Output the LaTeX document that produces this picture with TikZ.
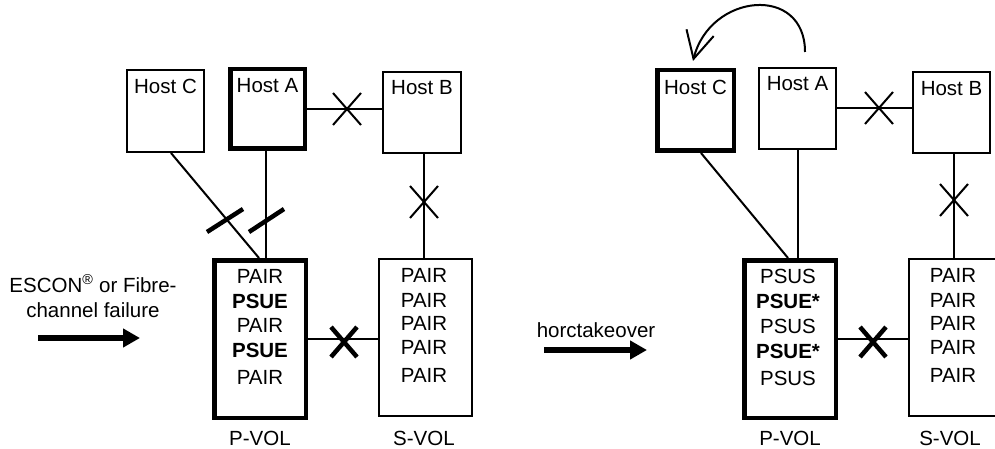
\documentclass[tikz,border=0pt]{standalone}
\usepackage{fontspec}
\setmainfont{Liberation Sans}
\usetikzlibrary{calc,arrows.meta}
\begin{document}
\begin{tikzpicture}[x=1pt,y=-1pt,
  txt/.style={font=\fontsize{20.5}{24}\selectfont, inner sep=0pt, anchor=base},
  thinbox/.style={draw, line width=2pt, fill=white, inner sep=0pt},
  thickbox/.style={draw, line width=4.5pt, fill=white, inner sep=0pt},
  conn/.style={line width=2pt},
  slashmark/.style={line width=4.5pt},
  bigarrow/.style={line width=6pt, -{Triangle[length=17pt,width=18pt]}},
  xthin/.pic={\draw[line width=2pt] (-14,-16) -- (14,16) (-14,16) -- (14,-16);},
  xthick/.pic={\draw[line width=4.5pt] (-13,-15) -- (13,15) (-13,15) -- (13,-15);}
]
\useasboundingbox (0,0) rectangle (995,449);

% ---------- left diagram ----------
\node[thinbox, minimum width=77pt, minimum height=82pt] (lhC) at (165.5,111) {};
\node[thickbox, minimum width=74.5pt, minimum height=79.5pt] (lhA) at (267.5,109) {};
\node[thinbox, minimum width=78pt, minimum height=81pt] (lhB) at (422,112.5) {};
\node[thickbox, minimum width=91.5pt, minimum height=157.5pt] (lpv) at (260,339) {};
\node[thinbox, minimum width=93pt, minimum height=157pt] (lsv) at (425.5,337.5) {};

\node[txt] (lhCt) at (165.5,94) {Host C};
\node[txt] (lhAt) at (267.5,93) {Host A};
\node[txt] (lhBt) at (422,95) {Host B};

\node[txt] (lp1) at (260,283) {PAIR};
\node[txt] (lp2) at (260,308) {\textbf{PSUE}};
\node[txt] (lp3) at (260,332) {PAIR};
\node[txt] (lp4) at (260,357) {\textbf{PSUE}};
\node[txt] (lp5) at (260,384) {PAIR};
\foreach \yy [count=\i] in {282,307,330,354,382}
  \node[txt] (ls\i) at (424,\yy) {PAIR};
\node[txt] (lpl) at (260,445) {P-VOL};
\node[txt] (lsl) at (424,445) {S-VOL};

\draw[conn] (lhA.east) -- (lhA.east -| lhB.west);
\draw[conn] ($(lhC.south)+(5.5,0)$) -- ($(lpv.north)+(-1,0)$);
\draw[conn] ($(lhA.south)+(-1.5,0)$) -- ($(lhA.south |- lpv.north)+(-1.5,0)$);
\draw[conn] ($(lhB.south)+(2,0)$) -- ($(lhB.south |- lsv.north)+(2,0)$);
\draw[conn] (lpv.east) -- (lpv.east -| lsv.west);
\pic at (347,109) {xthin};
\pic at (424,202) {xthin};
\pic at (344,342) {xthick};
\draw[slashmark] (207,232) -- (243,209);
\draw[slashmark] (249,232) -- (284,209);

\node[txt] (esc1) at (93,292) {ESCON\textsuperscript{\textregistered} or Fibre-};
\node[txt] (esc2) at (93,317) {channel failure};
\coordinate (la1) at (38,338);
\coordinate (la2) at (140,338);
\draw[bigarrow] (la1) -- (la2);

% ---------- right diagram ----------
\node[thickbox, minimum width=76.5pt, minimum height=80.5pt] (rhC) at (695.5,110.5) {};
\node[thinbox, minimum width=77pt, minimum height=81pt] (rhA) at (797.5,108.5) {};
\node[thinbox, minimum width=77pt, minimum height=81pt] (rhB) at (951.5,112.5) {};
\node[thickbox, minimum width=91.5pt, minimum height=157.5pt] (rpv) at (790,339) {};
\node[thinbox, minimum width=93pt, minimum height=157pt] (rsv) at (955.5,337.5) {};

\node[txt] (rhCt) at (695.5,95) {Host C};
\node[txt] (rhAt) at (797.5,91) {Host A};
\node[txt] (rhBt) at (951.5,96) {Host B};

\node[txt] (rp1) at (788,283) {PSUS};
\node[txt] (rp2) at (788,308) {\textbf{PSUE*}};
\node[txt] (rp3) at (788,333) {PSUS};
\node[txt] (rp4) at (788,358) {\textbf{PSUE*}};
\node[txt] (rp5) at (788,385) {PSUS};
\foreach \yy [count=\i] in {282,307,330,354,382}
  \node[txt] (rs\i) at (953,\yy) {PAIR};
\node[txt] (rpl) at (790,445) {P-VOL};
\node[txt] (rsl) at (950,445) {S-VOL};

\draw[conn] (rhA.east) -- (rhA.east -| rhB.west);
\draw[conn] ($(rhC.south)+(5.5,0)$) -- ($(rpv.north)+(-2,0)$);
\draw[conn] (rhA.south) -- (rhA.south |- rpv.north);
\draw[conn] ($(rhB.south)+(2.5,0)$) -- ($(rhB.south |- rsv.north)+(2.5,0)$);
\draw[conn] (rpv.east) -- (rpv.east -| rsv.west);
\pic at (879,108) {xthin};
\pic at (954,200) {xthin};
\pic at (873,342) {xthick};

\coordinate (cs) at ($(rhA.north)+(7.5,-15)$);
\coordinate (ce) at ($(rhC.north)+(-2.5,-7)$);
\draw[conn, -{Straight Barb[length=27pt,width=28pt]}] (cs) .. controls +(0,-68) and +(17,-68) .. (ce);

\node[txt] (hto) at (596,337) {horctakeover};
\coordinate (ra1) at (544,350);
\coordinate (ra2) at (647,350);
\draw[bigarrow] (ra1) -- (ra2);
\end{tikzpicture}
\end{document}
